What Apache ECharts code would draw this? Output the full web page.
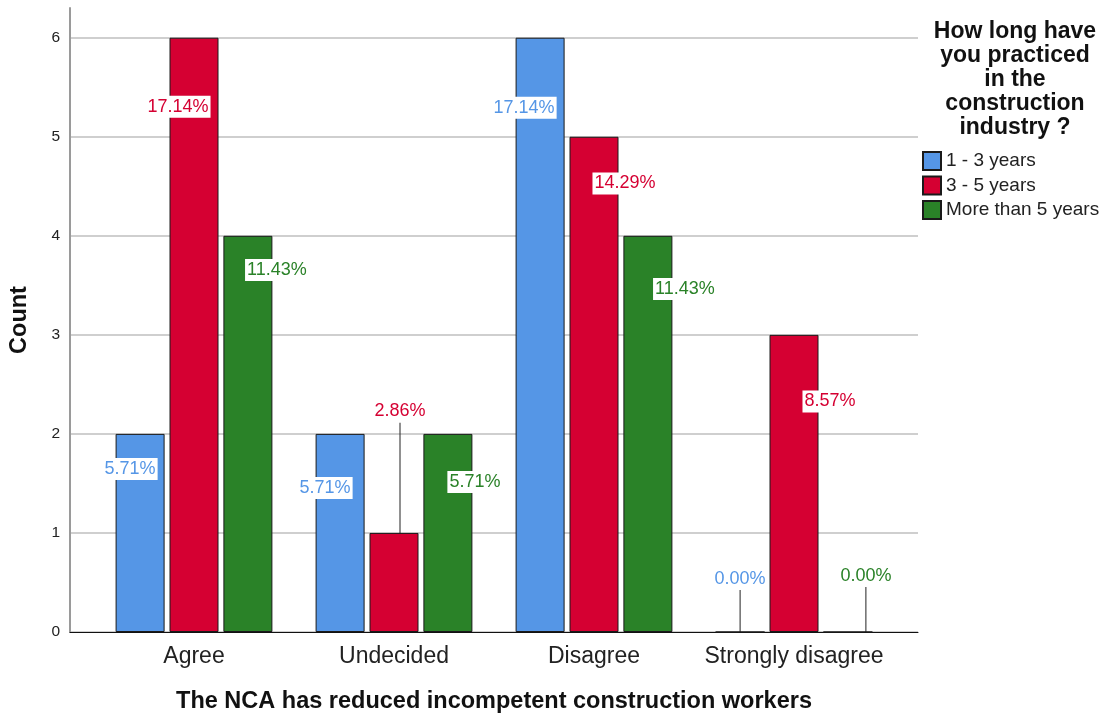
<!DOCTYPE html>
<html>
<head>
<meta charset="utf-8">
<script src="https://cdn.jsdelivr.net/npm/echarts@6/dist/echarts.min.js"></script>
<style>html,body{margin:0;padding:0;background:#fff}#c{width:1101px;height:715px}</style>
</head>
<body>
<div id="c"></div>
<script>
// ---- data ----
const categories = ['Agree', 'Undecided', 'Disagree', 'Strongly disagree'];
const seriesNames = ['1 - 3 years', '3 - 5 years', 'More than 5 years'];
const counts1to3 = [2, 2, 6, 0];
const counts3to5 = [6, 1, 5, 3];
const countsOver5 = [4, 2, 4, 0];
const pct1to3 = ['5.71%', '5.71%', '17.14%', '0.00%'];
const pct3to5 = ['17.14%', '2.86%', '14.29%', '8.57%'];
const pctOver5 = ['11.43%', '5.71%', '11.43%', '0.00%'];
const yTicks = [0, 1, 2, 3, 4, 5, 6];
const xTitle = 'The NCA has reduced incompetent construction workers';
const yTitle = 'Count';
const legendTitle = 'How long have\nyou practiced\nin the\nconstruction\nindustry ?';

// ---- styling ----
const colors = ['#5596E6', '#D50032', '#2A8228'];
const FONT = 'Liberation Sans, Arial, sans-serif';
// label displacement (px) from the bar centre, per series / category
const labelShift = [
  [[-10, -64], [-15, -45], [-16, -227], [0, -53]],
  [[-16, -228], [6, -171], [31, -201], [36, -82]],
  [[29, -164], [27, -51], [37, -145], [18, -56]]
];
const guideLine = [
  [false, false, false, true],
  [false, true, false, false],
  [false, false, false, true]
];

const allCounts = [counts1to3, counts3to5, countsOver5];
const allPct = [pct1to3, pct3to5, pctOver5];
const YMAX = 6.3;

const series = seriesNames.map((name, s) => ({
  name: name,
  type: 'bar',
  xAxisIndex: 1,
  yAxisIndex: 1,
  barWidth: 49,
  barGap: '10%',
  itemStyle: { color: colors[s], borderColor: '#1a1a1a', borderWidth: 1 },
  label: {
    show: true,
    position: 'inside',
    fontFamily: FONT,
    fontSize: 18,
    color: colors[s],
    backgroundColor: '#fff',
    padding: [2, 2, 2, 2],
    formatter: p => allPct[s][p.dataIndex]
  },
  labelLayout: p => ({ dx: labelShift[s][p.dataIndex][0], dy: labelShift[s][p.dataIndex][1] }),
  labelLine: { show: false, length: 2, lineStyle: { color: '#222', width: 1 } },
  data: allCounts[s].map((v, i) => ({
    value: v,
    labelLine: { show: guideLine[s][i], length: 2, lineStyle: { color: '#222', width: 1 } }
  }))
}));

const chart = echarts.init(document.getElementById('c'), null, { renderer: 'canvas' });
chart.setOption({
  animation: false,
  backgroundColor: '#fff',
  textStyle: { fontFamily: FONT },
  title: {
    text: legendTitle,
    left: 1010,
    textAlign: 'center',
    top: 15,
    textStyle: { fontFamily: FONT, fontSize: 23, fontWeight: 'bold', color: '#111', lineHeight: 24 }
  },
  legend: {
    orient: 'vertical',
    left: 917,
    top: 146,
    itemWidth: 18,
    itemHeight: 18,
    itemGap: 4.5,
    icon: 'rect',
    textStyle: { fontFamily: FONT, fontSize: 19, color: '#222' },
    data: seriesNames
  },
  grid: [
    { left: 70, right: 183, top: 8, bottom: 83, outerBoundsMode: 'none', containLabel: false },
    { left: 94, width: 800, top: 8, bottom: 83, outerBoundsMode: 'none', containLabel: false }
  ],
  xAxis: [
    {
      gridIndex: 0, type: 'value', min: 0, max: 1,
      axisLine: { show: true, onZero: false, lineStyle: { color: '#111', width: 1 } },
      axisTick: { show: false }, axisLabel: { show: false }, splitLine: { show: false }
    },
    {
      gridIndex: 1, type: 'category', data: categories,
      axisLine: { show: false }, axisTick: { show: false },
      axisLabel: { interval: 0, hideOverlap: false, fontFamily: FONT, fontSize: 23, color: '#222', margin: 13 },
      name: xTitle, nameLocation: 'middle', nameGap: 58,
      nameTextStyle: { fontFamily: FONT, fontSize: 23.5, fontWeight: 'bold', color: '#111' }
    }
  ],
  yAxis: [
    {
      gridIndex: 0, type: 'value', min: 0, max: YMAX, interval: 1,
      axisLine: { show: true, lineStyle: { color: '#9a9a9a', width: 2 } },
      axisTick: { show: false },
      axisLabel: {
        fontFamily: FONT, fontSize: 15.5, color: '#222', margin: 10,
        formatter: v => (yTicks.indexOf(v) >= 0 ? String(v) : '')
      },
      splitLine: { show: true, showMaxLine: false, lineStyle: { color: '#cfcfcf', width: 2 } },
      name: yTitle, nameLocation: 'middle', nameGap: 38, nameRotate: 90,
      nameTextStyle: { fontFamily: FONT, fontSize: 23.5, fontWeight: 'bold', color: '#111' }
    },
    {
      gridIndex: 1, type: 'value', min: 0, max: YMAX, interval: 1, show: false,
      splitLine: { show: false }
    }
  ],
  series: series
});
</script>
</body>
</html>
